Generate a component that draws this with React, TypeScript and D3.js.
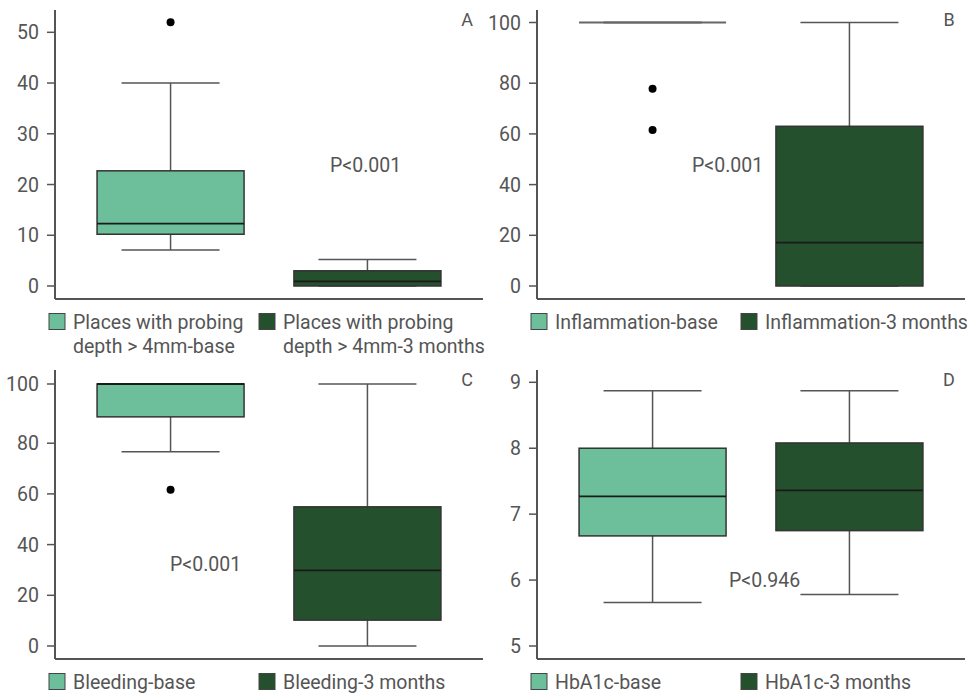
import * as d3 from 'd3'

// box stats: [min, q1, median, q3, max]
const groups = ['base', '3 months']
const statsA = [
  { min: 7.1, q1: 10.2, median: 12.3, q3: 22.7, max: 40, outliers: [52] },
  { min: 0, q1: 0, median: 0.9, q3: 3.0, max: 5.2, outliers: [] },
]
const statsB = [
  { min: 100, q1: 100, median: 100, q3: 100, max: 100, outliers: [77.8, 61.5] },
  { min: 0, q1: 0, median: 17.1, q3: 63.0, max: 100, outliers: [] },
]
const statsC = [
  { min: 76.6, q1: 88.9, median: 100, q3: 100, max: 100, outliers: [61.6] },
  { min: 0, q1: 10.2, median: 29.8, q3: 54.9, max: 100, outliers: [] },
]
const statsD = [
  { min: 5.66, q1: 6.67, median: 7.27, q3: 8.0, max: 8.87, outliers: [] },
  { min: 5.78, q1: 6.75, median: 7.36, q3: 8.08, max: 8.87, outliers: [] },
]

const ticksA = [0, 10, 20, 30, 40, 50]
const ticksPct = [0, 20, 40, 60, 80, 100]
const ticksD = [5, 6, 7, 8, 9]

const legendA = [['Places with probing', 'depth > 4mm-base'], ['Places with probing', 'depth > 4mm-3 months']]
const legendB = [['Inflammation-base'], ['Inflammation-3 months']]
const legendC = [['Bleeding-base'], ['Bleeding-3 months']]
const legendD = [['HbA1c-base'], ['HbA1c-3 months']]

const pLabels = ['P<0.001', 'P<0.001', 'P<0.001', 'P<0.946']
const letters = ['A', 'B', 'C', 'D']

const fills = ['#6dbf9b', '#24502e']
const textColor = '#555'
const font = 'Roboto, "Open Sans", sans-serif'
const fs = 19.5

// panel frame (local coords)
const axisX = 55
const axisTop = 10
const axisBottom = 299
const axisRight = 483

function Panel({ stats, ticks, domain, range, legend, pLabel, pPos, letter, dx, dy }) {
  const y = d3.scaleLinear().domain(domain).range(range)
  const x = d3.scalePoint().domain(groups).range([axisX, axisRight]).padding(0.587)
  const boxW = 147
  const capW = 98

  return (
    <g transform={`translate(${dx},${dy})`}>
      {/* boxes */}
      {stats.map((s, i) => {
        const cx = x(groups[i])
        const h = y(s.q1) - y(s.q3)
        return (
          <g key={i}>
            <line x1={cx} x2={cx} y1={y(s.max)} y2={y(s.q3)} stroke="#555" strokeWidth={1.5} />
            <line x1={cx} x2={cx} y1={y(s.q1)} y2={y(s.min)} stroke="#555" strokeWidth={1.5} />
            <line x1={cx - capW / 2} x2={cx + capW / 2} y1={y(s.max)} y2={y(s.max)} stroke="#555" strokeWidth={1.5} />
            <line x1={cx - capW / 2} x2={cx + capW / 2} y1={y(s.min)} y2={y(s.min)} stroke="#555" strokeWidth={1.5} />
            {h > 0 && (
              <rect x={cx - boxW / 2} y={y(s.q3)} width={boxW} height={h}
                fill={fills[i]} stroke="#333" strokeWidth={1.5} />
            )}
            <line x1={cx - boxW / 2} x2={cx + boxW / 2} y1={y(s.median)} y2={y(s.median)}
              stroke={h > 0 ? '#1a1a1a' : '#666'} strokeWidth={1.8} />
            {s.outliers.map((o, j) => (
              <circle key={j} cx={cx} cy={y(o)} r={4} fill="#000" />
            ))}
          </g>
        )
      })}

      {/* axes */}
      <line x1={axisX} x2={axisX} y1={axisTop} y2={axisBottom} stroke="#555" strokeWidth={2} />
      <line x1={axisX} x2={axisRight} y1={axisBottom} y2={axisBottom} stroke="#555" strokeWidth={2} />
      {ticks.map((t) => (
        <g key={t}>
          <line x1={axisX - 8} x2={axisX} y1={y(t)} y2={y(t)} stroke="#555" strokeWidth={1.5} />
          <text x={axisX - 16} y={y(t)} dy="0.36em" textAnchor="end" fontSize={fs}
            fill={textColor} fontFamily={font}>{t}</text>
        </g>
      ))}

      <text x={pPos[0]} y={pPos[1]} fontSize={fs} fill={textColor} fontFamily={font}>{pLabel}</text>
      <text x={467} y={26} textAnchor="middle" fontSize={18} fill={textColor} fontFamily={font}>{letter}</text>

      {/* legend */}
      {legend.map((lines, i) => {
        const lx = i === 0 ? 49 : 259
        return (
          <g key={i}>
            <rect x={lx} y={313.5} width={16} height={16} fill={fills[i]} stroke="#444" strokeWidth={1} />
            {lines.map((ln, k) => (
              <text key={k} x={lx + 24} y={328.5 + k * 24} fontSize={fs} fill={textColor}
                fontFamily={font}>{ln}</text>
            ))}
          </g>
        )
      })}
    </g>
  )
}

export default function App() {
  return (
    <div style={{ position: 'absolute', left: 0, top: 0 }}>
      <svg width={980} height={695} style={{ display: 'block', background: '#fff' }}>
        <Panel stats={statsA} ticks={ticksA} domain={[0, 50]} range={[286, 32.3]}
          legend={legendA} pLabel={pLabels[0]} pPos={[330, 172]} letter={letters[0]} dx={0} dy={0} />
        <Panel stats={statsB} ticks={ticksPct} domain={[0, 80, 100]} range={[286, 83.2, 22.5]}
          legend={legendB} pLabel={pLabels[1]} pPos={[210, 172]} letter={letters[1]} dx={482} dy={0} />
        <Panel stats={statsC} ticks={ticksPct} domain={[0, 80, 100]} range={[286, 83.2, 24]}
          legend={legendC} pLabel={pLabels[2]} pPos={[170, 210.5]} letter={letters[2]} dx={0} dy={360} />
        <Panel stats={statsD} ticks={ticksD} domain={[5, 9]} range={[286, 22.3]}
          legend={legendD} pLabel={pLabels[3]} pPos={[247, 226.5]} letter={letters[3]} dx={482} dy={360} />
      </svg>
    </div>
  )
}
